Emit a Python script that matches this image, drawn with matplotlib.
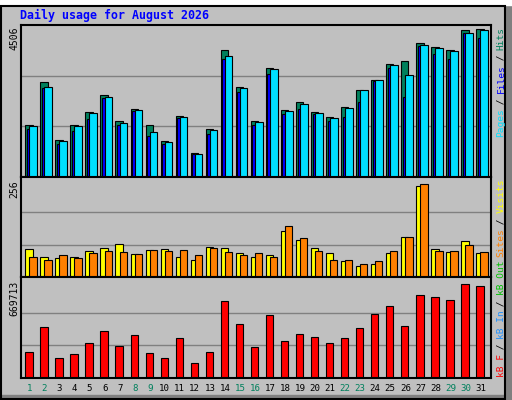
import numpy as np
import matplotlib.pyplot as plt
from matplotlib.patches import Rectangle

# daily values
days = list(range(1, 32))
weekend_days = [1, 2, 8, 9, 15, 16, 22, 23, 29, 30]
hits = [1530, 2810, 1083, 1530, 1917, 2422, 1649, 2006, 1530, 1053, 1797, 726, 1411, 3762, 2660, 1649,
        3226, 1976, 2214, 1917, 1768, 2065, 2571, 2869, 3345, 3434, 3970, 3851, 3762, 4357, 4387]
pages = [1500, 2660, 1053, 1500, 1887, 2362, 1589, 1976, 1321, 1023, 1768, 696, 1381, 3583, 2630, 1619,
         3196, 1946, 2155, 1887, 1738, 2036, 2571, 2869, 3315, 3018, 3910, 3821, 3732, 4268, 4357]
files = [1410, 2630, 973, 1360, 1717, 2333, 1530, 1946, 1202, 964, 1740, 680, 1262, 3494, 2512, 1530,
         3047, 1857, 2006, 1857, 1649, 1768, 2214, 2839, 3226, 2363, 3880, 3642, 3494, 4268, 4119]
visits = [73, 52, 49, 54, 68, 76, 86, 60, 70, 73, 54, 46, 78, 76, 62, 54,
          57, 121, 97, 76, 62, 41, 30, 33, 62, 105, 241, 73, 65, 94, 62]
sites = [54, 46, 57, 49, 62, 68, 65, 60, 70, 68, 70, 57, 76, 65, 57, 62,
         54, 134, 102, 68, 46, 46, 33, 41, 68, 105, 246, 68, 68, 84, 65]
kbytes = [178600, 347800, 136300, 164500, 242000, 319600, 220900, 291400, 171500, 136300, 270200,
          101000, 178600, 524000, 369000, 213800, 432400, 256100, 298400, 277300, 242000, 270200,
          340700, 439400, 488800, 354800, 566300, 552200, 531100, 643900, 629800]
max_hits, max_visits, max_kb = 4506, 256, 669713

W, H = 512, 400
BG = '#C0C0C0'
MONO = 'DejaVu Sans Mono'
fig = plt.figure(figsize=(W / 100, H / 100), dpi=100, facecolor=BG)

# outer frame + shadow
fig.patches.append(Rectangle((505 / W, 0), 7 / W, 395 / H, transform=fig.transFigure,
                             color='#808080', zorder=0))
fig.patches.append(Rectangle((0, 395 / H), 512 / W, 5 / H, transform=fig.transFigure,
                             color='white', zorder=0))
fig.patches.append(Rectangle((1 / W, 1 / H), 504 / W, 393 / H, transform=fig.transFigure,
                             fill=False, ec='black', lw=1.5, zorder=1))
fig.patches.append(Rectangle((0, 0), 512 / W, 5 / H, transform=fig.transFigure,
                             color='#808080', zorder=0))


def make_axes(top_px, bot_px):
    ax = fig.add_axes([20.7 / W, 1 - bot_px / H, (491 - 20.7) / W, (bot_px - top_px) / H])
    ax.set_facecolor(BG)
    ax.set_xlim(0.315, 31.6)
    ax.set_xticks([])
    ax.set_yticks([])
    for s in ax.spines.values():
        s.set_color('black')
        s.set_linewidth(1.5)
    return ax


d = np.array(days)
# top panel: hits / files / pages
ax1 = make_axes(25, 177)
ax1.set_ylim(0, max_hits)
for g in (max_hits / 3, 2 * max_hits / 3):
    ax1.axhline(g, color='#808080', lw=1, zorder=0)
ax1.bar(d - 0.38, hits, width=0.49, align='edge', color='#00805C', ec='black', lw=0.8, zorder=2)
ax1.bar(d - 0.27, files, width=0.3, align='edge', color='#0000FF', ec='black', lw=0.8, zorder=3)
ax1.bar(d - 0.11, pages, width=0.51, align='edge', color='#00E0FF', ec='black', lw=0.8, zorder=4)

# middle panel: visits / sites
ax2 = make_axes(177, 277)
ax2.set_ylim(0, max_visits * 1.03)
for g in (max_visits / 3, 2 * max_visits / 3):
    ax2.axhline(g, color='#808080', lw=1, zorder=0)
ax2.bar(d - 0.38, visits, width=0.49, align='edge', color='#FFFF00', ec='black', lw=0.8, zorder=2)
ax2.bar(d - 0.11, sites, width=0.49, align='edge', color='#FF8000', ec='black', lw=0.8, zorder=3)

# bottom panel: kB
ax3 = make_axes(277, 378)
ax3.set_ylim(0, max_kb * 1.03)
for g in (max_kb / 3, 2 * max_kb / 3):
    ax3.axhline(g, color='#808080', lw=1, zorder=0)
ax3.bar(d - 0.38, kbytes, width=0.49, align='edge', color='#FF0000', ec='black', lw=0.8, zorder=2)

# day labels
for day in days:
    col = '#00805C' if day in weekend_days else 'black'
    ax3.text(day - 0.1, -0.06, str(day), transform=ax3.get_xaxis_transform(), ha='center',
             va='top', fontsize=6.6, family=MONO, color=col)

# title
fig.text(20 / W, 1 - 15 / H, 'Daily usage for August 2026', color='#0000FF', fontsize=8.4,
         fontweight='bold', family=MONO, va='center', ha='left')

# left max labels
for label, top_px in (('4506', 27), ('256', 180), ('669713', 281)):
    fig.text(14 / W, 1 - top_px / H, label, rotation=90, ha='center', va='top',
             fontsize=7, family=MONO, color='black')

CH = 5.45  # px per char for right labels


def vertical_label(bottom_px, parts):
    y = bottom_px
    for txt, col in parts:
        fig.text(501 / W, 1 - y / H, txt, rotation=90, ha='center', va='bottom',
                 fontsize=6.8, family=MONO, color=col)
        y -= CH * len(txt)


vertical_label(137, [('Pages', '#00E0FF'), (' / ', 'black'), ('Files', '#0000FF'),
                     (' / ', 'black'), ('Hits', '#00805C')])
vertical_label(257, [('Sites', '#FF8000'), (' / ', 'black'), ('Visits', '#FFFF00')])
vertical_label(377, [('kB F', '#FF0000'), (' / ', 'black'), ('kB In', '#1E90FF'),
                     (' / ', 'black'), ('kB Out', '#00C000')])

fig.savefig('out.png', dpi=100, facecolor=BG)
